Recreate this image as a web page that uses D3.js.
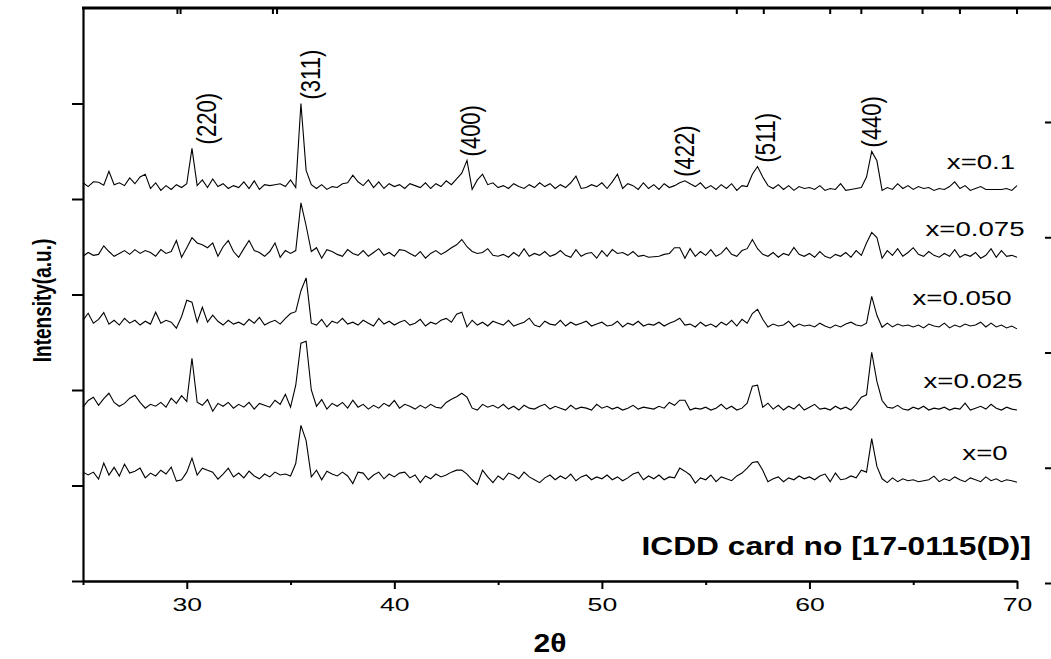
<!DOCTYPE html>
<html>
<head>
<meta charset="utf-8">
<script src="https://cdn.jsdelivr.net/npm/d3@7"></script>
<style>
html, body { margin: 0; padding: 0; background: #fff; overflow: hidden; }
svg { display: block; position: absolute; left: 0; top: 0; }
text { font-family: Arial, "Liberation Sans", sans-serif; fill: #000; }
</style>
</head>
<body>
<script>
//////////////////////////////// data ////////////////////////////////
// scans start at 25 deg and step 0.25 deg (181 points each)
var thetaStart = 25, thetaStep = 0.25;

var seriesNames = ["x=0.1", "x=0.075", "x=0.050", "x=0.025", "x=0"];
// vertical offset used to stack the scans (a.u.)
var offsets = [4050, 3340, 2620, 1750, 1000];

var scan0100 = [
  120, 80, 130, 125, 95, 240, 100, 120, 90, 170,
  110, 180, 210, 60, 120, 40, 90, 50, 100, 70,
  110, 480, 90, 150, 70, 160, 80, 110, 60, 90,
  70, 130, 60, 140, 50, 100, 90, 100, 110, 80,
  150, 70, 950, 250, 100, 60, 100, 50, 80, 70,
  110, 120, 200, 130, 90, 150, 70, 130, 60, 110,
  80, 100, 60, 110, 90, 70, 120, 60, 110, 80,
  140, 100, 160, 220, 354, 50, 150, 210, 100, 120,
  70, 90, 60, 110, 80, 60, 100, 70, 120, 80,
  110, 60, 100, 70, 120, 190, 60, 70, 100, 80,
  120, 60, 130, 210, 60, 110, 90, 50, 120, 60,
  100, 50, 110, 70, 90, 120, 140, 110, 80, 120,
  60, 90, 50, 100, 60, 110, 40, 90, 80, 210,
  290, 180, 90, 60, 100, 50, 90, 40, 80, 60,
  70, 50, 90, 40, 60, 50, 110, 40, 50, 60,
  70, 180, 448, 350, 40, 70, 50, 110, 60, 90,
  50, 80, 60, 70, 40, 60, 50, 80, 130, 60,
  90, 40, 60, 80, 50, 50, 50, 50, 60, 40,
  90];

var scan0075 = [
  60, 100, 70, 80, 170, 110, 60, 90, 120, 80,
  130, 90, 120, 100, 60, 130, 90, 110, 225, 50,
  150, 255, 200, 180, 150, 200, 60, 160, 225, 110,
  50, 140, 225, 120, 100, 60, 110, 200, 50, 120,
  90, 120, 620, 380, 110, 150, 40, 130, 110, 80,
  60, 130, 90, 70, 120, 60, 100, 140, 70, 100,
  60, 130, 120, 90, 60, 110, 40, 90, 120, 80,
  110, 150, 180, 236, 160, 110, 90, 100, 140, 70,
  60, 80, 50, 100, 60, 140, 60, 90, 70, 110,
  60, 80, 120, 70, 50, 130, 60, 90, 100, 40,
  120, 60, 130, 90, 100, 70, 110, 60, 70, 50,
  55, 60, 80, 90, 150, 150, 40, 140, 60, 110,
  70, 130, 60, 90, 150, 80, 60, 120, 140, 236,
  140, 80, 60, 100, 50, 90, 70, 153, 80, 60,
  90, 50, 110, 60, 40, 80, 60, 100, 50, 120,
  70, 200, 310, 257, 40, 120, 70, 140, 60, 100,
  150, 80, 60, 110, 70, 50, 90, 60, 130, 50,
  80, 60, 100, 40, 70, 140, 50, 120, 60, 70,
  50];

var scan0050 = [
  110, 184, 80, 120, 190, 70, 110, 60, 130, 80,
  110, 60, 100, 70, 195, 80, 110, 90, 27, 150,
  320, 300, 90, 247, 90, 163, 100, 60, 110, 70,
  90, 60, 120, 80, 140, 60, 90, 110, 70, 130,
  180, 200, 420, 554, 80, 60, 120, 40, 100, 80,
  130, 70, 90, 60, 110, 80, 50, 130, 70, 100,
  60, 90, 110, 60, 80, 120, 50, 90, 70, 110,
  130, 90, 174, 195, 40, 110, 60, 90, 50, 100,
  80, 60, 110, 50, 70, 90, 132, 60, 40, 100,
  70, 60, 110, 50, 90, 60, 80, 100, 50, 70,
  90, 50, 60, 100, 40, 80, 60, 100, 50, 70,
  60, 90, 50, 80, 100, 132, 60, 70, 40, 90,
  50, 70, 40, 90, 60, 110, 50, 120, 80, 180,
  225, 120, 40, 70, 50, 60, 100, 40, 70, 50,
  60, 40, 80, 50, 30, 60, 40, 70, 90, 60,
  50, 80, 361, 162, 37, 80, 40, 70, 50, 60,
  40, 60, 30, 70, 50, 40, 80, 30, 60, 40,
  70, 50, 60, 90, 40, 80, 40, 60, 30, 50,
  20];

var scan0025 = [
  70, 140, 174, 90, 160, 216, 120, 80, 110, 164,
  195, 120, 60, 100, 80, 120, 70, 164, 110, 190,
  130, 583, 122, 90, 150, 28, 110, 80, 120, 60,
  100, 70, 120, 50, 110, 90, 70, 143, 100, 206,
  70, 300, 740, 760, 250, 80, 150, 50, 110, 80,
  120, 60, 143, 70, 100, 50, 90, 60, 110, 80,
  140, 60, 100, 80, 50, 90, 60, 100, 70, 60,
  120, 154, 180, 216, 175, 60, 40, 100, 70, 90,
  60, 100, 50, 80, 40, 90, 60, 50, 80, 100,
  50, 80, 60, 40, 90, 50, 70, 60, 40, 100,
  60, 80, 50, 70, 40, 60, 90, 50, 70, 60,
  50, 80, 60, 120, 90, 143, 143, 40, 60, 50,
  70, 40, 60, 100, 50, 80, 40, 60, 112, 290,
  300, 70, 112, 50, 90, 40, 80, 50, 100, 40,
  70, 100, 50, 60, 40, 80, 50, 70, 40, 100,
  175, 200, 645, 340, 140, 70, 60, 90, 50, 40,
  70, 50, 80, 40, 60, 50, 70, 40, 60, 50,
  112, 40, 60, 80, 50, 100, 60, 40, 70, 50,
  40];

var scan0000 = [
  140, 110, 140, 67, 234, 110, 190, 100, 224, 130,
  150, 182, 80, 130, 100, 160, 120, 192, 46, 60,
  140, 287, 110, 182, 160, 140, 67, 120, 182, 90,
  130, 80, 150, 100, 70, 120, 90, 140, 110, 120,
  100, 230, 630, 470, 90, 160, 60, 150, 120, 100,
  140, 100, 20, 140, 130, 60, 110, 140, 70, 120,
  90, 130, 140, 80, 110, 30, 100, 70, 120, 90,
  110, 140, 161, 161, 120, 60, 10, 161, 90, 30,
  100, 60, 130, 110, 70, 140, 90, 60, 30, 80,
  110, 60, 100, 70, 120, 50, 90, 110, 60, 90,
  70, 110, 60, 90, 50, 80, 120, 140, 60, 100,
  70, 110, 60, 90, 80, 182, 150, 110, 25, 80,
  60, 110, 40, 90, 70, 50, 100, 130, 182, 240,
  250, 160, 40, 70, 90, 40, 80, 60, 100, 70,
  90, 60, 100, 120, 40, 130, 60, 70, 100, 80,
  161, 140, 490, 200, 70, 30, 80, 40, 70, 50,
  60, 40, 50, 60, 98, 40, 70, 50, 90, 60,
  40, 80, 60, 40, 90, 50, 70, 40, 60, 50,
  35];

var scans = [scan0100, scan0075, scan0050, scan0025, scan0000];

// reflections marked above the top scan
var hklLabels = ["(220)", "(311)", "(400)", "(422)", "(511)", "(440)"];
var hklTheta = [30.95, 35.95, 43.65, 53.95, 57.9, 63.0];

// axis ticks
var xMajorTicks = [30, 40, 50, 60, 70];
var xMinorTicks = [25, 35, 45, 55, 65];
var yTicks = [0, 1000, 2000, 3000, 4000, 5000];
var topTicks = [29.55, 29.7, 34.15, 34.35, 56.5, 57.8, 61.0, 62.5, 65.45, 67.25, 70];
var rightTicks = [0, 1, 2, 3, 4];

//////////////////////////////// layout ////////////////////////////////
var W = 1051, H = 659;
var plotL = 83, plotR = 1017, plotT = 8, plotB = 581;
var sx = 1.4;   // the picture is stretched sideways, so is the lettering

var svg = d3.select("body").append("svg")
    .attr("width", W)
    .attr("height", H);

var x = d3.scaleLinear().domain([25, 70]).range([plotL, plotR]);
var y = d3.scaleLinear().domain([0, 6000]).range([plotB, plotT]);

// bottom axis, major ticks with labels
var xAxis = svg.append("g")
    .attr("transform", "translate(0," + plotB + ")")
    .call(d3.axisBottom(x).tickValues(xMajorTicks).tickSize(8).tickPadding(9).tickSizeOuter(0));
xAxis.selectAll("text")
    .attr("font-size", "19px")
    .attr("transform", "scale(" + sx + ",1)");

// minor ticks
svg.append("g")
    .attr("transform", "translate(0," + plotB + ")")
    .call(d3.axisBottom(x).tickValues(xMinorTicks).tickSize(4).tickFormat("").tickSizeOuter(0));

// left axis, no labels
svg.append("g")
    .attr("transform", "translate(" + plotL + ",0)")
    .call(d3.axisLeft(y).tickValues(yTicks).tickSize(11).tickFormat("").tickSizeOuter(0));

// ticks of the next panel peeking in on the right
var yRight = d3.scaleLinear().domain([0, 4]).range([583, 122]);
svg.append("g")
    .attr("transform", "translate(1045,0)")
    .call(d3.axisRight(yRight).tickValues(rightTicks).tickSize(7).tickFormat("").tickSizeOuter(0))
    .select(".domain").remove();

svg.selectAll(".domain").attr("stroke-width", 2.2);
svg.selectAll(".tick line").attr("stroke-width", 2);

// top frame: a solid bar that runs on past the right end of the plot
svg.append("rect")
    .attr("x", plotL - 1)
    .attr("y", plotT - 1.5)
    .attr("width", W - plotL + 1)
    .attr("height", 3)
    .attr("fill", "#000");

// stray ticks left over from the neighbouring panel, hanging from the top bar
svg.selectAll(".top-tick")
    .data(topTicks)
    .enter()
    .append("rect")
    .attr("class", "top-tick")
    .attr("x", function(d) { return x(d) - 1; })
    .attr("y", plotT)
    .attr("width", 2)
    .attr("height", 6)
    .attr("fill", "#000");

// the scans
var scanLine = function(off) {
    return d3.line()
        .x(function(d, i) { return x(thetaStart + i * thetaStep); })
        .y(function(d) { return y(d + off); });
};

// label centres (px) for the composition tags
var tagX = [981, 975, 962, 973, 985];

for (let s = 0; s < scans.length; s++) {
    svg.append("path")
        .datum(scans[s])
        .attr("fill", "none")
        .attr("stroke", "#000")
        .attr("stroke-width", 1.1)
        .attr("d", scanLine(offsets[s]));

    // composition label above the right end of each scan
    svg.append("text")
        .attr("transform", "translate(" + tagX[s] + "," + (y(offsets[s] + 90) - 17) + ") scale(1.38,1)")
        .attr("text-anchor", "middle")
        .attr("font-size", "20px")
        .text(seriesNames[s]);
}

// hkl labels, sitting just above the highest point of the top scan nearby
for (let k = 0; k < hklLabels.length; k++) {
    var peak = d3.max(scan0100.filter(function(d, i) {
        return Math.abs(thetaStart + i * thetaStep - hklTheta[k]) <= 0.8;
    }));
    svg.append("text")
        .attr("transform", "translate(" + x(hklTheta[k]) + "," + (y(peak + offsets[0]) - 4) + ") scale(1.25,1) rotate(-90)")
        .attr("dy", "0.35em")
        .attr("font-size", "22px")
        .text(hklLabels[k]);
}

// axis titles
svg.append("text")
    .attr("transform", "translate(" + ((plotL + plotR) / 2) + ",652) scale(1.2,1)")
    .attr("text-anchor", "middle")
    .attr("font-size", "25px")
    .attr("font-weight", "bold")
    .text("2\u03b8");

svg.append("text")
    .attr("transform", "translate(42," + ((plotT + plotB) / 2 + 6) + ") scale(1.35,1) rotate(-90)")
    .attr("text-anchor", "middle")
    .attr("dy", "0.35em")
    .attr("font-size", "19px")
    .attr("font-weight", "bold")
    .text("Intensity(a.u.)");

svg.append("text")
    .attr("transform", "translate(1031,555) scale(1.22,1)")
    .attr("text-anchor", "end")
    .attr("font-size", "26px")
    .attr("font-weight", "bold")
    .text("ICDD card no [17-0115(D)]");
</script>
</body>
</html>
